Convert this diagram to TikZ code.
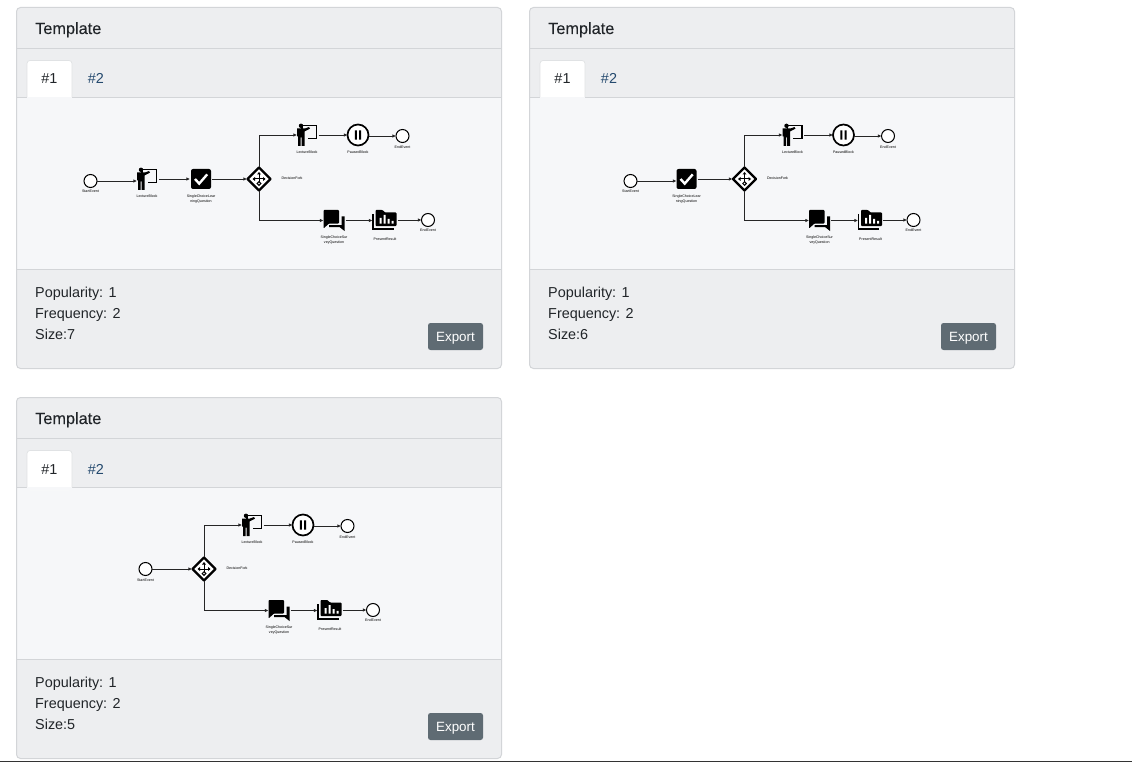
\documentclass[tikz,border=0pt]{standalone}
\usepackage{fontspec}
\setmainfont{Liberation Sans}
\newfontfamily\medfont[FakeBold=0.25]{Liberation Sans}
\usetikzlibrary{arrows.meta,calc}
\definecolor{cardedge}{HTML}{D3D5D8}
\definecolor{cardhead}{HTML}{EDEEF0}
\definecolor{cardbody}{HTML}{F6F7F9}
\definecolor{inkdark}{HTML}{212529}
\definecolor{tablink}{HTML}{24496E}
\definecolor{btnfill}{HTML}{5F6B73}
\tikzset{
  x=1pt,y=-1pt,
  event/.style={circle,draw=black,fill=white,line width=1pt,inner sep=0,outer sep=0,minimum size=13pt},
  pausenode/.style={circle,draw=black,fill=white,line width=1.7pt,inner sep=0,outer sep=0,minimum size=21pt},
  iconbox/.style={inner sep=0,outer sep=0,minimum width=#1,minimum height=21pt},
  gate/.style={inner sep=0,outer sep=0,minimum size=24pt},
  flow/.style={draw=black!85,line width=0.75pt,-{Latex[length=3.6pt,width=3.4pt]}},
  small/.style={font=\fontsize{3.6}{4.6}\selectfont,text=black,align=center,inner sep=0,yshift=-0.8pt},
  heading/.style={font=\medfont\fontsize{16.3}{18}\selectfont,text=inkdark,anchor=base west,inner sep=0},
  infotext/.style={font=\fontsize{14.4}{16}\selectfont,text=inkdark,anchor=base west,inner sep=0},
  tabtext/.style={font=\fontsize{14.4}{16}\selectfont,inner sep=0,anchor=base},
  exportbtn/.style={rounded corners=2.5pt,fill=btnfill,inner sep=0,minimum width=55pt,minimum height=27pt},
  exportlabel/.style={text=white,inner sep=0,anchor=base,font=\fontsize{13.4}{15}\selectfont},
}
% icons, drawn around the centre of their node
\newcommand{\iconlecture}[1]{%
  \begin{scope}[shift={(#1)}]
    \draw[black,line width=1.5pt] (-5,-5) -- (-5,-9.5) -- (9.5,-9.5) -- (9.5,3.7) -- (0.5,3.7);
    \fill[black] (-6,-9.2) circle (2.2);
    \fill[black] (-10,-6.5) -- (-2,-6.5) -- (2,-8) -- (3,-6.4) -- (-2.5,-3.5) -- (-2.5,11) -- (-5.4,11) -- (-5.4,2.5) -- (-6.3,2.5) -- (-6.3,11) -- (-9,11) -- (-9,1.5) -- (-10,1.5) -- cycle;
  \end{scope}}
\newcommand{\iconcheck}[1]{%
  \begin{scope}[shift={(#1)}]
    \fill[black,rounded corners=2pt] (-10,-10) rectangle (10,10);
    \draw[white,line width=2.4pt] (-6,0) -- (-1.8,4.6) -- (6.2,-4.6);
  \end{scope}}
\newcommand{\icondecision}[1]{%
  \begin{scope}[shift={(#1)}]
    \draw[black,line width=2.2pt,fill=white,line join=round] (0,-11.5) -- (11.5,0) -- (0,11.5) -- (-11.5,0) -- cycle;
    \draw[black,line width=1pt] (0,-6) -- (0,5) (-5.5,0) -- (5.5,0);
    \fill[black] (0,-7) -- (2,-4.5) -- (-2,-4.5) -- cycle (-6.5,0) -- (-4,-2) -- (-4,2) -- cycle (6.5,0) -- (4,-2) -- (4,2) -- cycle;
    \draw[black,line width=1pt,fill=white] (0,4.5) circle (1.8);
  \end{scope}}
\newcommand{\iconpause}[1]{%
  \begin{scope}[shift={(#1)}]
    \fill[black] (-3.2,-4.6) rectangle (-1.1,4.6) (1.1,-4.6) rectangle (3.2,4.6);
  \end{scope}}
\newcommand{\iconchat}[1]{%
  \begin{scope}[shift={(#1)}]
    \fill[black,rounded corners=0.8pt] (-10.5,-10.5) -- (5,-10.5) -- (5,3) -- (-5,3) -- (-10.5,8) -- cycle;
    \fill[black] (7.5,-4) -- (10.5,-4) -- (10.5,10.5) -- (5.5,6.5) -- (-5,6.5) -- (-5,4.5) -- (7.5,4.5) -- cycle;
  \end{scope}}
\newcommand{\iconfolder}[1]{%
  \begin{scope}[shift={(#1)}]
    \fill[black,rounded corners=0.8pt] (-9,-10) -- (-2,-10) -- (0.5,-7.5) -- (12,-7.5) -- (12,6) -- (-9,6) -- cycle;
    \draw[black,line width=1.7pt] (-11.5,-6) -- (-11.5,9) -- (9,9);
    \fill[white] (-5,-2) rectangle (-2.8,3.5) (-1,-5) rectangle (1.2,3.5) (3,-1) rectangle (5.2,3.5) (7,0.8) rectangle (9.2,3.5);
  \end{scope}}
% the shared fork and its two branches; #1 = name prefix, diamond at (0,0) of the scope
\newcommand{\forkpart}[1]{%
  \node[gate] (#1d) at (0,0) {};
  \icondecision{#1d}
  \node[small] (#1dl) at (33,-2) {DecisionFork};
  \node[iconbox=20pt,minimum height=22pt] (#1la) at (48,-44) {};
  \iconlecture{#1la}
  \node[small] (#1lal) at (48,-28) {LectureBlock};
  \node[pausenode] (#1p) at (99,-44) {};
  \iconpause{#1p}
  \node[small] (#1pl) at (99,-27.5) {PausedBlock};
  \node[event] (#1e) at (143.5,-43) {};
  \node[small] (#1el) at (143.5,-32.5) {EndEvent};
  \node[iconbox=21pt] (#1c) at (75,41.5) {};
  \iconchat{#1c}
  \node[small] (#1cl) at (75,60) {SingleChoiceSur\\veyQuestion};
  \node[iconbox=24pt] (#1f) at (125.5,41) {};
  \iconfolder{#1f}
  \node[small] (#1fl) at (126,59.5) {PresentResult};
  \node[event] (#1g) at (169,41) {};
  \node[small] (#1gl) at (169,50.5) {EndEvent};
  \draw[flow] (#1d.north) |- (#1la.west);
  \draw[flow] ($(#1la.east)+(1.5,0)$) -- (#1p.west);
  \draw[flow] (#1p.east |- #1e.west) -- (#1e.west);
  \draw[flow] (#1d.south) |- (#1c.west);
  \draw[flow] ($(#1c.east)+(1,0)$) -- (#1f.west |- #1c.east);
  \draw[flow] ($(#1f.east)+(1,0)$) -- (#1g.west);
}
% the card frame; #1 prefix, #2 size text
\newcommand{\card}[2]{%
  \fill[cardhead,rounded corners=4pt] (16.5,7.5) rectangle (501.5,368.5);
  \fill[cardbody] (17,97.5) rectangle (501,269.5);
  \draw[cardedge,line width=1pt,rounded corners=4pt] (16.5,7.5) rectangle (501.5,368.5);
  \draw[cardedge,line width=1pt] (16.5,48.5) -- (501.5,48.5);
  \draw[cardedge,line width=1pt] (16.5,97.5) -- (501.5,97.5);
  \draw[cardedge,line width=1pt] (16.5,269.5) -- (501.5,269.5);
  \fill[white,rounded corners=3pt] (27,60.5) rectangle (72,100);
  \draw[cardedge!70,line width=0.7pt,rounded corners=3pt] (27,97.5) -- (27,60.5) -- (72,60.5) -- (72,97.5);
  \fill[cardbody] (27.4,97) rectangle (71.6,100);
  \node[heading] (#1title) at (35,34) {Template};
  \node[tabtext,text=inkdark] (#1tabone) at (49.5,84) {\#1};
  \node[tabtext,text=tablink] (#1tabtwo) at (96,84) {\#2};
  \node[infotext] (#1pop) at (35,297) {Popularity: 1};
  \node[infotext] (#1fre) at (35,318) {Frequency: 2};
  \node[infotext] (#1siz) at (35,339) {Size:#2};
  \node[exportbtn] (#1btn) at (455.5,336.5) {};
  \node[exportlabel] (#1btnl) at (455.5,341) {Export};
}
\begin{document}
\begin{tikzpicture}
\useasboundingbox (0,0) rectangle (1132,762);
\fill[white] (0,0) rectangle (1132,762);
% card 1
\begin{scope}
  \card{a}{7}
\end{scope}
\begin{scope}[shift={(259,179)}]
  \forkpart{a}
  \node[event] (astart) at (-168.5,2) {};
  \node[small] (astartl) at (-168.5,11.5) {StartEvent};
  \node[iconbox=20pt,minimum height=22pt] (alb) at (-112,0) {};
  \iconlecture{alb}
  \node[small] (albl) at (-112,16.5) {LectureBlock};
  \node[iconbox=20pt] (ack) at (-58,0) {};
  \iconcheck{ack}
  \node[small] (ackl) at (-58,19) {SingleChoiceLear\\ningQuestion};
  \draw[flow] (astart.east) -- (alb.west |- astart.east);
  \draw[flow] ($(alb.east)+(2,0)$) -- ($(ack.west)+(-1,0)$);
  \draw[flow] ($(ack.east)+(1,0)$) -- (ad.west);
\end{scope}
% card 2
\begin{scope}[shift={(513,0)}]
  \card{b}{6}
\end{scope}
\begin{scope}[shift={(744.5,179)}]
  \forkpart{b}
  \node[event] (bstart) at (-114,2) {};
  \node[small] (bstartl) at (-114,11.5) {StartEvent};
  \node[iconbox=20pt] (bck) at (-58,0) {};
  \iconcheck{bck}
  \node[small] (bckl) at (-58,19) {SingleChoiceLear\\ningQuestion};
  \draw[flow] (bstart.east) -- (bck.west |- bstart.east);
  \draw[flow] ($(bck.east)+(1,0)$) -- (bd.west);
\end{scope}
% card 3
\begin{scope}[shift={(0,390)}]
  \card{c}{5}
\end{scope}
\begin{scope}[shift={(204,569)}]
  \forkpart{c}
  \node[event] (cstart) at (-58.5,0) {};
  \node[small] (cstartl) at (-58.5,10.5) {StartEvent};
  \draw[flow] (cstart.east) -- (cd.west);
\end{scope}
\fill[black!80] (0,760.6) rectangle (1132,762);
\end{tikzpicture}
\end{document}
